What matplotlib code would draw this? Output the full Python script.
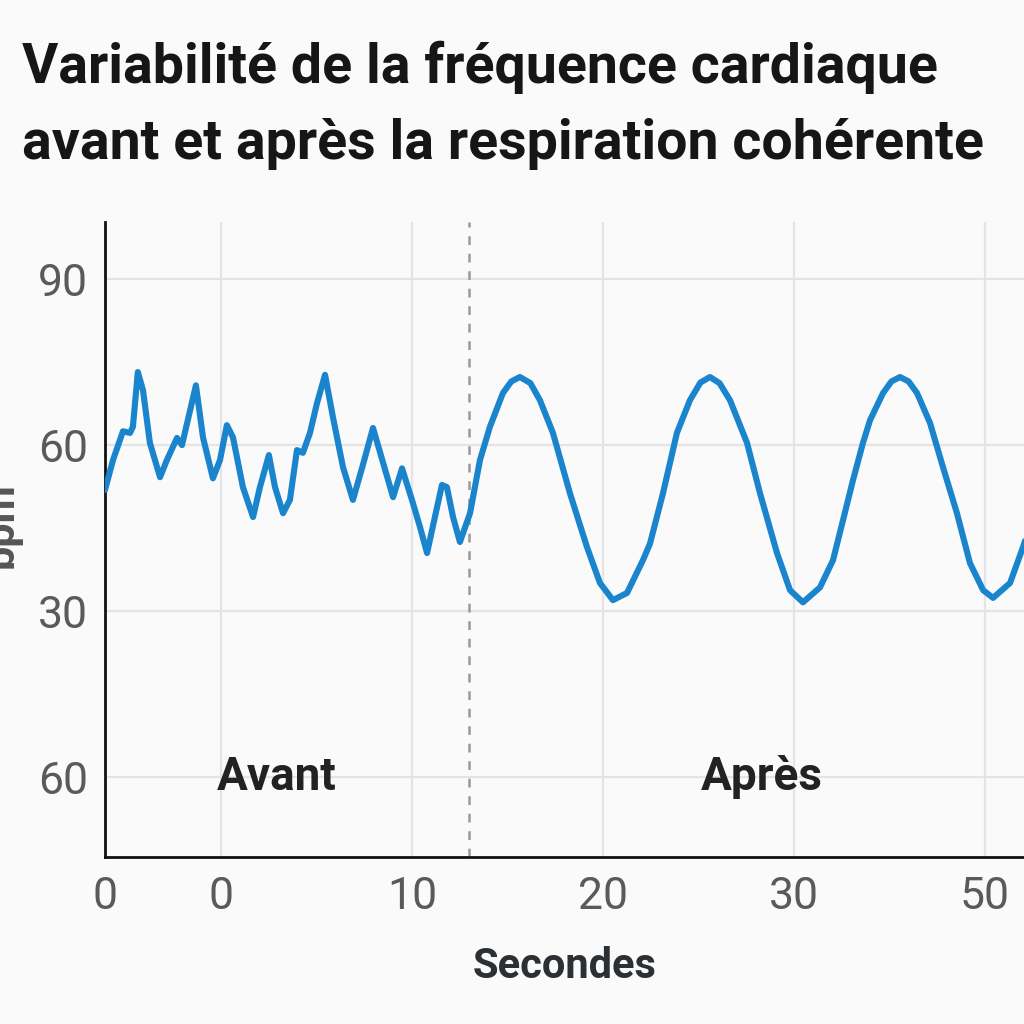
import numpy as np
import matplotlib
matplotlib.use("Agg")
import matplotlib.pyplot as plt

# narrowest installed family, to get near the condensed look of the reference
plt.rcParams['font.family'] = ['Roboto', 'DejaVu Sans']

#%% data (seconds, bpm)

temps = [-6.07, -5.65, -5.13, -4.76, -4.61, -4.35, -4.08, -3.72, -3.19, -2.83,
         -2.30, -2.04, -1.31, -0.94, -0.42, -0.05, 0.31, 0.63, 1.15, 1.68,
         2.04, 2.51, 2.83, 3.25, 3.61, 3.98, 4.29, 4.66, 5.03, 5.45,
         5.86, 6.39, 6.91, 7.43, 7.96, 8.48, 9.01, 9.48, 10.0, 10.42,
         10.79, 11.2, 11.57, 11.83, 12.15, 12.51, 13.04, 13.56,
         14.08, 14.76, 15.2, 15.65, 16.2, 16.70, 17.38, 18.27, 19.16, 19.84,
         20.52, 21.26, 22.09, 22.46, 23.14, 23.87, 24.55, 25.1, 25.60, 26.1,
         26.65, 27.54, 28.22, 29.11, 29.79, 30.47, 31.36, 32.04, 32.57, 33.09,
         33.61, 33.98, 34.66, 35.1, 35.55, 36.0, 36.44, 37.12, 37.80, 38.53,
         39.21, 39.90, 40.42, 41.31, 41.99, 42.5]

bpm = [51.9, 57.3, 62.5, 62.2, 63.3, 73.2, 69.9, 60.4, 54.2, 57.3,
       61.3, 60.0, 70.8, 61.4, 54.0, 57.3, 63.6, 61.4, 52.4, 47.0,
       52.4, 58.2, 52.4, 47.7, 50.1, 59.1, 58.6, 62.2, 67.6, 72.7,
       65.1, 56.0, 50.1, 56.4, 63.1, 56.9, 50.6, 55.8, 50.1, 45.2,
       40.5, 47.0, 52.8, 52.4, 47.0, 42.5, 47.7, 57.3,
       63.3, 69.4, 71.5, 72.3, 71.2, 68.1, 62.2, 51.3, 41.6, 35.1,
       32.0, 33.3, 39.2, 42.2, 51.3, 62.2, 68.1, 71.3, 72.3, 71.2,
       68.1, 60.4, 51.3, 40.5, 33.8, 31.6, 34.3, 39.2, 46.5, 53.7,
       60.4, 64.5, 69.4, 71.5, 72.3, 71.5, 69.4, 64.0, 56.0, 47.7,
       38.7, 33.8, 32.4, 35.1, 41.6, 47.0]

xticks = [-6.07, 0, 10, 20, 30, 40]
xtick_labels = ["0", "0", "10", "20", "30", "50"]
yticks = [90, 60, 30, 0]
ytick_labels = ["90", "60", "30", "60"]

t_switch = 13.0
title = "Variabilité de la fréquence cardiaque\navant et après la respiration cohérente"

#%% plot

bg = "#fafafa"
fig = plt.figure(figsize=(10.24, 10.24), dpi=100, facecolor=bg)
ax = fig.add_axes([105/1024, 1 - 857/1024, 1 - 105/1024, (857 - 222)/1024])
ax.set_facecolor(bg)

ax.plot(temps, bpm, color="#1a84cc", lw=4.4, solid_joinstyle="round",
        solid_capstyle="round", zorder=3)
ax.axvline(t_switch, color="#9a9a9a", lw=1.8, ls=(0, (3.5, 3.5)), zorder=2)

ax.set_xlim(-6.07, 42.04)
ax.set_ylim(-14.4, 100.3)
ax.set_xticks(xticks)
ax.set_xticklabels(xtick_labels)
ax.set_yticks(yticks)
ax.set_yticklabels(ytick_labels)
ax.grid(True, color="#e4e4e4", lw=1.6, zorder=0)
ax.tick_params(length=0, labelsize=32, colors="#5a5a5a")
ax.tick_params(axis="x", pad=14)
ax.tick_params(axis="y", pad=12)

for s in ["top", "right"]:
    ax.spines[s].set_visible(False)
for s in ["left", "bottom"]:
    ax.spines[s].set_linewidth(2)
    ax.spines[s].set_color("#111111")

ax.text(2.9, 0, "Avant", fontsize=33, fontweight="bold", color="#222222",
        ha="center", va="center", zorder=4)
ax.text(28.3, 0, "Après", fontsize=33, fontweight="bold", color="#222222",
        ha="center", va="center", zorder=4)

ax.set_xlabel("Secondes", fontsize=30, fontweight="bold", color="#2b3035", labelpad=20)
fig.text(22/1024, 1 - 525/1024, "bpm", rotation=90, fontsize=31,
         fontweight="bold", color="#555555", ha="right", va="center")

fig.text(22/1024, 1 - 41/1024, title, fontsize=40, fontweight="bold",
         color="#161616", ha="left", va="top", linespacing=1.58)

plt.savefig("out.png", dpi=100, facecolor=bg)
plt.close()
